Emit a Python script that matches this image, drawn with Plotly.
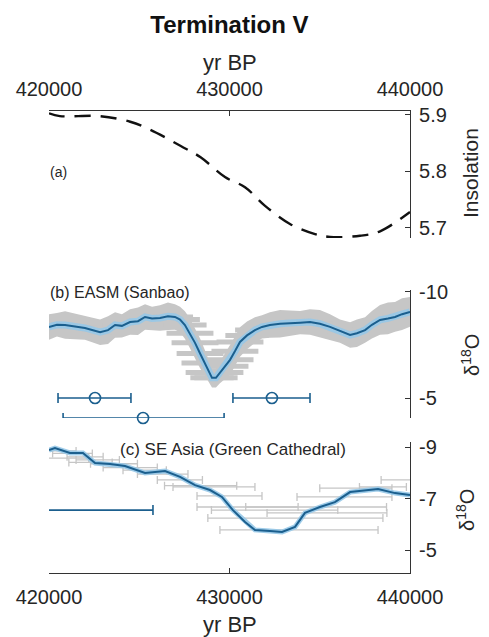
import plotly.graph_objects as go

# ---------------- data ----------------
# (a) insolation
ins_age = [420000, 420600, 422800, 424500, 425600, 427300, 428400, 429750,
           430860, 431970, 433350, 434740, 435570, 437230, 438340, 440000]
ins_val = [5.903, 5.898, 5.898, 5.888, 5.874, 5.845, 5.825, 5.79,
           5.772, 5.739, 5.707, 5.689, 5.684, 5.686, 5.694, 5.728]

# (b) EASM (Sanbao) d18O
sb_age = [420000, 420440, 420890, 421440, 421990, 422830, 423270, 423660, 424040,
          424490, 424930, 425320, 425710, 426150, 426590, 426980, 427260, 427530,
          427810, 428090, 428370, 428640, 428870, 429030, 429250, 429470, 429750,
          430030, 430300, 430580, 430970, 431410, 431800, 432240, 432800, 433350,
          433910, 434460, 435010, 435570, 436120, 436680, 437060, 437510, 437890,
          438340, 438780, 439170, 439560, 440000]
sb_d18o = [-8.35, -8.45, -8.44, -8.38, -8.3, -8.1, -8.2, -8.44, -8.4,
           -8.58, -8.62, -8.82, -8.75, -8.77, -8.85, -8.82, -8.7, -8.44,
           -8.05, -7.6, -7.1, -6.65, -6.2, -5.95, -5.95, -6.2, -6.5,
           -6.8, -7.2, -7.64, -7.95, -8.2, -8.35, -8.44, -8.5, -8.54,
           -8.55, -8.58, -8.5, -8.35, -8.15, -7.97, -8.05, -8.2, -8.45,
           -8.68, -8.75, -8.82, -8.95, -9.06]
sb_spread = [0.6, 0.55, 0.65, 0.6, 0.55, 0.6, 0.65, 0.6, 0.55,
             0.6, 0.65, 0.6, 0.55, 0.6, 0.65, 0.6, 0.6, 0.65,
             0.7, 0.7, 0.7, 0.6, 0.5, 0.45, 0.45, 0.5, 0.6,
             0.7, 0.7, 0.7, 0.65, 0.6, 0.55, 0.6, 0.65, 0.6,
             0.55, 0.6, 0.65, 0.6, 0.55, 0.6, 0.65, 0.6, 0.65,
             0.7, 0.75, 0.7, 0.75, 0.7]
sb_age_err = [700, 700, 700, 700, 700, 700, 700, 700, 700,
              700, 700, 700, 700, 800, 900, 1000, 1100, 1200,
              1300, 1300, 1300, 1300, 1300, 1200, 1200, 1300, 1300,
              1300, 1300, 1300, 1200, 1100, 1000, 900, 800, 700,
              700, 700, 700, 700, 700, 700, 700, 700, 700,
              700, 700, 700, 700, 700]
# dating uncertainty markers (b)
eb_age = [422550, 432350, 425210]
eb_d18o = [-5.0, -5.0, -4.06]
eb_plus = [1990, 2110, 4490]
eb_minus = [2050, 2160, 4430]

# (c) SE Asia (Green Cathedral) d18O
gc_age = [420000, 420330, 421160, 421880, 422550, 423380, 424210, 425320, 426430,
          427260, 428090, 428920, 429580, 430190, 430860, 431410, 432240, 432910,
          433630, 434180, 435010, 435840, 436680, 437510, 438230, 439170, 440000]
gc_d18o = [-8.88, -8.96, -8.77, -8.77, -8.38, -8.34, -8.26, -7.99, -8.07,
           -7.84, -7.52, -7.33, -7.06, -6.55, -6.09, -5.78, -5.74, -5.7,
           -5.9, -6.44, -6.67, -6.86, -7.25, -7.33, -7.37, -7.21, -7.14]
# individual dated samples with age errors (c)
gs_age = [420600, 421300, 422000, 422700, 423600, 424500, 425300, 426300, 427250,
          428400, 429140, 430000, 431000, 432500, 433650, 433850, 434800, 435400,
          436370, 437000, 438500, 439400, 420900, 422300]
gs_d18o = [-8.85, -8.75, -8.62, -8.5, -8.35, -8.2, -8.1, -7.95, -7.72,
           -7.5, -7.45, -7.1, -6.67, -6.55, -6.24, -5.78, -6.67, -6.44,
           -7.06, -7.4, -7.45, -7.72, -8.57, -8.4]
gs_err = [900, 1100, 1000, 1200, 1300, 1500, 1200, 1400, 1250,
          2000, 2270, 1800, 2800, 3500, 4850, 4380, 3900, 3320,
          2630, 2000, 1300, 1000, 1300, 1200]
gc_bar_age = [422000]
gc_bar_d18o = [-6.55]
gc_bar_plus = [3760]
gc_bar_minus = [4000]

# tick labels (hyphen minus as in the original)
x_tickvals = [420000, 430000, 440000]
x_ticktext = ["420000", "430000", "440000"]
a_tickvals = [5.7, 5.8, 5.9]
a_ticktext = ["5.7", "5.8", "5.9"]
b_tickvals = [-10, -5]
b_ticktext = ["-10", "-5"]
c_tickvals = [-9, -7, -5]
c_ticktext = ["-9", "-7", "-5"]

# ---------------- styling ----------------
FONT = "Liberation Sans, Arial, Helvetica, sans-serif"
TXT = "#262626"
AX = "#333333"
BLUE = "#1b5f8e"
LBLUE = "rgba(150,200,232,0.9)"
GREY = "#c6c6c6"

fig = go.Figure()

# (a)
fig.add_trace(go.Scatter(x=ins_age, y=ins_val, mode="lines", line_shape="spline",
                         line=dict(color="#111111", width=2.4, dash="16px,10px"),
                         xaxis="x", yaxis="y", showlegend=False))

# (b) grey band
sb_hi = [v - s for v, s in zip(sb_d18o, sb_spread)]
sb_lo = [v + s for v, s in zip(sb_d18o, sb_spread)]
fig.add_trace(go.Scatter(x=sb_age, y=sb_hi, mode="lines", line=dict(width=0, color=GREY),
                         xaxis="x2", yaxis="y2", showlegend=False, hoverinfo="skip"))
fig.add_trace(go.Scatter(x=sb_age, y=sb_lo, mode="lines", line=dict(width=0, color=GREY),
                         fill="tonexty", fillcolor=GREY,
                         xaxis="x2", yaxis="y2", showlegend=False, hoverinfo="skip"))
fig.add_trace(go.Scatter(x=sb_age, y=sb_d18o, mode="markers", marker=dict(size=1, opacity=0),
                         error_x=dict(type="data", array=sb_age_err, color=GREY,
                                      thickness=5, width=0),
                         xaxis="x2", yaxis="y2", showlegend=False, hoverinfo="skip"))
fig.add_trace(go.Scatter(x=sb_age, y=sb_d18o, mode="lines",
                         line=dict(color=LBLUE, width=7),
                         xaxis="x2", yaxis="y2", showlegend=False, hoverinfo="skip"))
fig.add_trace(go.Scatter(x=sb_age, y=sb_d18o, mode="lines",
                         line=dict(color=BLUE, width=2),
                         xaxis="x2", yaxis="y2", showlegend=False))
fig.add_trace(go.Scatter(x=eb_age, y=eb_d18o, mode="markers", cliponaxis=False,
                         marker=dict(symbol="circle-open", size=11, color=BLUE,
                                     line=dict(width=1.6, color=BLUE)),
                         error_x=dict(type="data", array=eb_plus, arrayminus=eb_minus,
                                      symmetric=False, color=BLUE, thickness=1.6, width=5),
                         xaxis="x2", yaxis="y2", showlegend=False))

# (c)
fig.add_trace(go.Scatter(x=gs_age, y=gs_d18o, mode="markers", marker=dict(size=1, opacity=0),
                         error_x=dict(type="data", array=gs_err, color=GREY,
                                      thickness=1.3, width=4),
                         xaxis="x3", yaxis="y3", showlegend=False, hoverinfo="skip"))
fig.add_trace(go.Scatter(x=gc_age, y=gc_d18o, mode="lines",
                         line=dict(color=LBLUE, width=5),
                         xaxis="x3", yaxis="y3", showlegend=False, hoverinfo="skip"))
fig.add_trace(go.Scatter(x=gc_age, y=gc_d18o, mode="lines",
                         line=dict(color=BLUE, width=2),
                         xaxis="x3", yaxis="y3", showlegend=False))
fig.add_trace(go.Scatter(x=gc_bar_age, y=gc_bar_d18o, mode="markers",
                         marker=dict(size=1, opacity=0),
                         error_x=dict(type="data", array=gc_bar_plus, arrayminus=gc_bar_minus,
                                      symmetric=False, color=BLUE, thickness=1.6, width=5),
                         xaxis="x3", yaxis="y3", showlegend=False))

tickfont = dict(family=FONT, size=20, color=TXT)

def xaxis(**kw):
    d = dict(range=[420000, 440000], domain=[0, 1], tickvals=x_tickvals, ticktext=x_ticktext,
             showgrid=False, zeroline=False, ticks="inside", ticklen=5, tickcolor=AX,
             linecolor=AX, linewidth=1.2, tickfont=tickfont)
    d.update(kw)
    return d

def yaxis(**kw):
    d = dict(side="right", showgrid=False, zeroline=False, ticks="inside", ticklen=5,
             tickcolor=AX, showline=True, linecolor=AX, linewidth=1.2, tickfont=tickfont,
             ticklabelstandoff=4)
    d.update(kw)
    return d

fig.update_layout(
    width=489, height=637,
    margin=dict(l=49, r=79, t=111, b=64),
    paper_bgcolor="white", plot_bgcolor="rgba(0,0,0,0)",
    font=dict(family=FONT, color=TXT),
    title=dict(text="<b>Termination V</b>", x=0.4693, xanchor="center",
               y=1 - 25 / 637, yanchor="middle", font=dict(family=FONT, size=24, color="#111111")),
    xaxis=xaxis(anchor="y", side="top", showline=True, ticklabelstandoff=6),
    yaxis=yaxis(domain=[0.725, 1.0], anchor="x", range=[5.682, 5.907],
                tickvals=a_tickvals, ticktext=a_ticktext),
    xaxis2=xaxis(anchor="y2", visible=False),
    yaxis2=yaxis(domain=[0.3355, 0.6126], anchor="x2", range=[-4.06, -10.09],
                 tickvals=b_tickvals, ticktext=b_ticktext, layer="below traces"),
    xaxis3=xaxis(anchor="y3", side="bottom", showline=True, ticklabelstandoff=6),
    yaxis3=yaxis(domain=[0, 0.2835], anchor="x3", range=[-4.107, -9.194],
                 tickvals=c_tickvals, ticktext=c_ticktext),
    annotations=[
        dict(text="yr BP", xref="paper", yref="paper", x=0.5, y=1 + (111 - 62) / 462,
             xanchor="center", yanchor="middle", showarrow=False,
             font=dict(family=FONT, size=22, color=TXT)),
        dict(text="yr BP", xref="paper", yref="paper", x=0.5, y=-(624 - 573) / 462,
             xanchor="center", yanchor="middle", showarrow=False,
             font=dict(family=FONT, size=22, color=TXT)),
        dict(text="Insolation", xref="paper", yref="paper", x=(470 - 49) / 361,
             y=(573 - 173) / 462, xanchor="center", yanchor="middle", textangle=-90,
             showarrow=False, font=dict(family=FONT, size=21, color=TXT)),
        dict(text="δ<sup>18</sup>O", xref="paper", yref="paper", x=(470 - 49) / 361,
             y=(573 - 355) / 462, xanchor="center", yanchor="middle", textangle=-90,
             showarrow=False, font=dict(family=FONT, size=20, color=TXT)),
        dict(text="δ<sup>18</sup>O", xref="paper", yref="paper", x=(465 - 49) / 361,
             y=(573 - 510) / 462, xanchor="center", yanchor="middle", textangle=-90,
             showarrow=False, font=dict(family=FONT, size=20, color=TXT)),
        dict(text="(a)", xref="paper", yref="paper", x=(48 - 49) / 361,
             y=(573 - 172) / 462, xanchor="left", yanchor="middle",
             showarrow=False, font=dict(family=FONT, size=14, color=TXT)),
        dict(text="(b) EASM (Sanbao)", xref="paper", yref="paper", x=(48 - 49) / 361,
             y=(573 - 292) / 462, xanchor="left", yanchor="middle",
             showarrow=False, font=dict(family=FONT, size=16, color=TXT)),
        dict(text="(c) SE Asia (Green Cathedral)", xref="paper", yref="paper",
             x=(118 - 49) / 361, y=(573 - 449) / 462, xanchor="left", yanchor="middle",
             showarrow=False, font=dict(family=FONT, size=17, color=TXT)),
    ],
)

fig.write_html("out.html")
